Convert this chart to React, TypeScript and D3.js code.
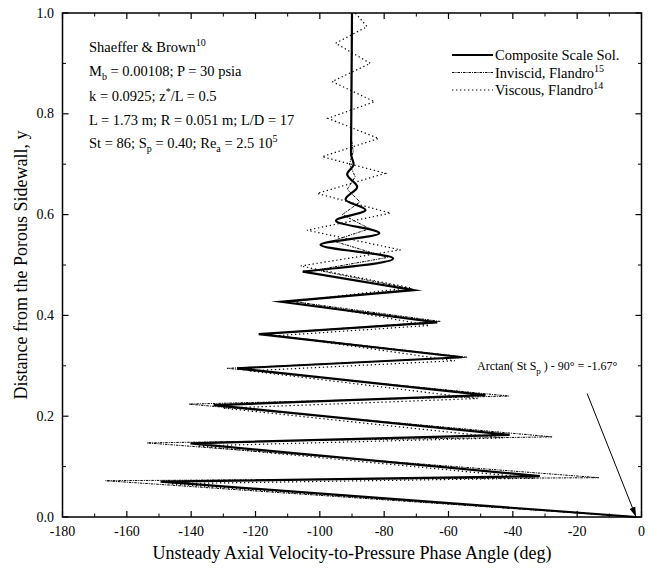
import React from 'react';
import * as d3 from 'd3';

const W = 657;
const H = 572;

const xTickValues = [-180, -160, -140, -120, -100, -80, -60, -40, -20, 0];
const xTickLabels = ['-180', '-160', '-140', '-120', '-100', '-80', '-60', '-40', '-20', '0'];
const yTickValues = [0, 0.2, 0.4, 0.6, 0.8, 1.0];
const yTickLabels = ['0.0', '0.2', '0.4', '0.6', '0.8', '1.0'];

// Composite Scale Solution (thick solid)
const compositeAngle = [-1.67, -149.5, -31.6, -140.2, -41.0, -133.0, -48.5, -125.7, -55.8, -119.0, -63.5, -112.0, -70.8, -105.3, -77.2, -99.8, -81.5, -95.0, -85.8, -92.0, -88.4, -91.5, -89.5, -90.3, -90.0];
const compositeY = [0, 0.070, 0.081, 0.146, 0.163, 0.222, 0.242, 0.295, 0.317, 0.363, 0.386, 0.427, 0.450, 0.487, 0.513, 0.540, 0.563, 0.588, 0.609, 0.630, 0.655, 0.680, 0.700, 0.720, 1.0];

// Inviscid, Flandro
const inviscidAngle = [-1.67, -166.6, -13.3, -153.7, -27.8, -140.7, -41.3, -128.8, -54.2, -118.0, -62.5, -109.0, -71.0, -101.0, -79.0, -96.0, -84.5, -93.0, -87.5, -91.5, -89.0, -90.8, -89.6, -90.2, -90.0];
const inviscidY = [0, 0.072, 0.078, 0.147, 0.159, 0.224, 0.240, 0.295, 0.317, 0.363, 0.388, 0.428, 0.452, 0.490, 0.515, 0.548, 0.572, 0.600, 0.625, 0.650, 0.675, 0.700, 0.725, 0.750, 1.0];

// Viscous, Flandro
const viscousAngle = [-1.67, -147.0, -33.0, -138.0, -43.0, -130.0, -51.0, -122.0, -58.0, -113.0, -66.0, -108.0, -72.0, -106.0, -74.9, -104.0, -78.0, -100.8, -79.6, -99.3, -81.7, -97.5, -83.0, -96.2, -84.3, -95.1, -85.3, -89.0];
const viscousY = [0, 0.066, 0.077, 0.141, 0.157, 0.216, 0.235, 0.290, 0.310, 0.360, 0.380, 0.428, 0.455, 0.498, 0.530, 0.569, 0.603, 0.642, 0.682, 0.715, 0.751, 0.791, 0.824, 0.864, 0.900, 0.940, 0.973, 1.0];

const arrowFrom = [-16.9, 0.245];
const arrowTo = [-1.67, 0.0];

const FONT = "'Liberation Serif', 'Times New Roman', serif";

export default function App() {
  const x = d3.scaleLinear().domain([-180, 0]).range([62.5, 641.5]);
  const y = d3.scaleLinear().domain([0, 1]).range([517, 13]);

  const mk = (ax: number[], ay: number[]) => ax.map((a, i) => [a, ay[i]] as [number, number]);
  const lineLinear = d3.line<[number, number]>().x(d => x(d[0])).y(d => y(d[1])).curve(d3.curveLinear);
  const lineSmooth = d3.line<[number, number]>().x(d => x(d[0])).y(d => y(d[1])).curve(d3.curveMonotoneY);

  const comp = mk(compositeAngle, compositeY);
  const compLower = comp.slice(0, 14);
  const compUpper = comp.slice(13);
  const invis = mk(inviscidAngle, inviscidY);
  const visc = mk(viscousAngle, viscousY);

  const xMinor = d3.range(-170, 0, 20);
  const yMinor = [0.1, 0.3, 0.5, 0.7, 0.9];
  const [x0, x1] = x.range();
  const [yb, yt] = y.range();

  return (
    <svg width={W} height={H} viewBox={`0 0 ${W} ${H}`} style={{ position: 'absolute', left: 0, top: 0, background: '#fff' }}>
      <style>{`body{margin:0}`}</style>
      <defs>
        <marker id="ah" viewBox="0 0 10 6" refX="10" refY="3" markerWidth="10" markerHeight="6" markerUnits="userSpaceOnUse" orient="auto">
          <path d="M0,0 L10,3 L0,6 Z" fill="#000" />
        </marker>
      </defs>
      <rect x={0} y={0} width={W} height={H} fill="#fff" />

      {/* curves */}
      <path d={lineLinear(invis) || ''} fill="none" stroke="#000" strokeWidth={1} strokeDasharray="2.5,1,1,1" />
      <path d={lineLinear(visc) || ''} fill="none" stroke="#000" strokeWidth={1.2} strokeDasharray="1.3,2.7" />
      <path d={lineLinear(compLower) || ''} fill="none" stroke="#000" strokeWidth={2.2} strokeLinejoin="miter" strokeMiterlimit={10} />
      <path d={lineSmooth(compUpper) || ''} fill="none" stroke="#000" strokeWidth={2.2} />

      {/* frame */}
      <rect x={x0} y={yt} width={x1 - x0} height={yb - yt} fill="none" stroke="#000" strokeWidth={1.5} />

      {/* x ticks */}
      {xTickValues.map(v => (
        <g key={'xt' + v}>
          <line x1={x(v)} x2={x(v)} y1={yb} y2={yb - 6} stroke="#000" strokeWidth={1.2} />
          <line x1={x(v)} x2={x(v)} y1={yt} y2={yt + 6} stroke="#000" strokeWidth={1.2} />
        </g>
      ))}
      {xMinor.map(v => (
        <g key={'xm' + v}>
          <line x1={x(v)} x2={x(v)} y1={yb} y2={yb - 3.5} stroke="#000" strokeWidth={1} />
          <line x1={x(v)} x2={x(v)} y1={yt} y2={yt + 3.5} stroke="#000" strokeWidth={1} />
        </g>
      ))}
      {xTickValues.map((v, i) => (
        <text key={'xl' + v} x={x(v)} y={536} textAnchor="middle" fontFamily={FONT} fontSize={14}>{xTickLabels[i]}</text>
      ))}

      {/* y ticks */}
      {yTickValues.map(v => (
        <g key={'yt' + v}>
          <line x1={x0} x2={x0 + 6} y1={y(v)} y2={y(v)} stroke="#000" strokeWidth={1.2} />
          <line x1={x1} x2={x1 - 6} y1={y(v)} y2={y(v)} stroke="#000" strokeWidth={1.2} />
        </g>
      ))}
      {yMinor.map(v => (
        <g key={'ym' + v}>
          <line x1={x0} x2={x0 + 3.5} y1={y(v)} y2={y(v)} stroke="#000" strokeWidth={1} />
          <line x1={x1} x2={x1 - 3.5} y1={y(v)} y2={y(v)} stroke="#000" strokeWidth={1} />
        </g>
      ))}
      {yTickValues.map((v, i) => (
        <text key={'yl' + v} x={54} y={y(v) + 4.5} textAnchor="end" fontFamily={FONT} fontSize={14}>{yTickLabels[i]}</text>
      ))}

      {/* axis titles */}
      <text x={(x0 + x1) / 2} y={559} textAnchor="middle" fontFamily={FONT} fontSize={18}>Unsteady Axial Velocity-to-Pressure Phase Angle (deg)</text>
      <text transform={`translate(27,${(yb + yt) / 2}) rotate(-90)`} textAnchor="middle" fontFamily={FONT} fontSize={18}>Distance from the Porous Sidewall, y</text>

      {/* parameter block */}
      <g fontFamily={FONT} fontSize={14.5}>
        <text x={89} y={52}>Shaeffer &amp; Brown<tspan dy={-6} fontSize={10}>10</tspan></text>
        <text x={89} y={76}>M<tspan dy={4} fontSize={10}>b</tspan><tspan dy={-4}> = 0.00108; P = 30 psia</tspan></text>
        <text x={89} y={101}>k = 0.0925; z<tspan dy={-6} fontSize={10}>*</tspan><tspan dy={6}>/L = 0.5</tspan></text>
        <text x={89} y={125}>L = 1.73 m; R = 0.051 m; L/D = 17</text>
        <text x={89} y={148}>St = 86; S<tspan dy={4} fontSize={10}>p</tspan><tspan dy={-4}> = 0.40; Re</tspan><tspan dy={4} fontSize={10}>a</tspan><tspan dy={-4}> = 2.5 10</tspan><tspan dy={-6} fontSize={10}>5</tspan></text>
      </g>

      {/* legend */}
      <g fontFamily={FONT} fontSize={14.5}>
        <line x1={452} x2={493} y1={55} y2={55} stroke="#000" strokeWidth={2.2} />
        <text x={495} y={60}>Composite Scale Sol.</text>
        <line x1={452} x2={493} y1={72.5} y2={72.5} stroke="#000" strokeWidth={1} strokeDasharray="2.5,1,1,1" />
        <text x={495} y={77.5}>Inviscid, Flandro<tspan dy={-6} fontSize={10}>15</tspan></text>
        <line x1={452} x2={493} y1={90} y2={90} stroke="#000" strokeWidth={1.2} strokeDasharray="1.3,2.7" />
        <text x={495} y={95}>Viscous, Flandro<tspan dy={-6} fontSize={10}>14</tspan></text>
      </g>

      {/* arrow annotation */}
      <text x={477} y={370} fontFamily={FONT} fontSize={12}>Arctan( St S<tspan dy={4} fontSize={9}>p</tspan><tspan dy={-4}> ) - 90° = -1.67°</tspan></text>
      <line x1={x(arrowFrom[0])} y1={y(arrowFrom[1])} x2={x(arrowTo[0])} y2={y(arrowTo[1])} stroke="#000" strokeWidth={1} markerEnd="url(#ah)" />
    </svg>
  );
}
